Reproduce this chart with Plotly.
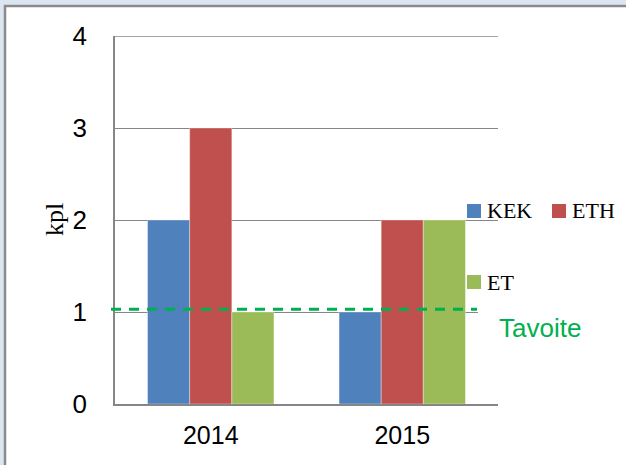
import plotly.graph_objects as go

categories = ["2014", "2015"]
kek = [2, 1]
eth = [3, 2]
et = [1, 2]
target = 1.03
series_names = ["KEK", "ETH", "ET"]
colors = ["#4f81bd", "#c0504d", "#9bbb59"]
y_ticks = [0, 1, 2, 3, 4]

W, H = 626, 465
L, R, T, B = 115, 128, 36, 61
pw, ph = W - L - R, H - T - B

def px(x):
    return (x - L) / pw

def py(y):
    return (H - B - y) / ph

fig = go.Figure()
for name, vals, c in zip(series_names, [kek, eth, et], colors):
    fig.add_trace(go.Bar(x=categories, y=vals, name=name,
                         marker=dict(color=c, line=dict(color="rgba(255,255,255,0.35)", width=1)),
                         showlegend=False))

grid = "#868686"
fig.update_layout(
    width=W, height=H,
    margin=dict(l=L, r=R, t=T, b=B),
    paper_bgcolor="#dce6f2",
    plot_bgcolor="rgba(0,0,0,0)",
    barmode="group", bargap=0.34, bargroupgap=0,
    showlegend=False,
    font=dict(family="Liberation Sans, Arial", color="black"),
    xaxis=dict(type="category", showgrid=False, showline=True, linecolor=grid, linewidth=1.5,
               ticks="", tickfont=dict(size=25, family="Liberation Sans, Arial"),
               ticklabelstandoff=8, fixedrange=True),
    yaxis=dict(range=[0, 4], tickvals=y_ticks, showgrid=True, gridcolor=grid, gridwidth=1.3,
               showline=True, linecolor=grid, linewidth=1.5, zeroline=False,
               ticks="", tickfont=dict(size=26, family="Liberation Sans, Arial"),
               ticklabelstandoff=21, fixedrange=True),
)

shapes = [
    # outer frame
    dict(type="rect", xref="paper", yref="paper", layer="below",
         x0=px(5), x1=px(660), y0=py(500), y1=py(6),
         line=dict(color="#8a8a8a", width=2.5), fillcolor="white"),
    # top gridline
    dict(type="line", xref="paper", yref="y", x0=0, x1=1, y0=y_ticks[-1], y1=y_ticks[-1],
         line=dict(color=grid, width=1.3), layer="below"),
    # target dashed line
    dict(type="line", xref="paper", yref="y", x0=px(111), x1=px(477), y0=target, y1=target,
         line=dict(color="#00b050", width=3, dash="10px,8px"), layer="above"),
    # legend background over gridline at 1
    dict(type="rect", xref="paper", yref="paper", x0=px(478), x1=px(500), y0=py(300), y1=py(320),
         line=dict(width=0), fillcolor="white", layer="above"),
]

# legend squares
leg = [("KEK", 467, 211, colors[0]), ("ETH", 552, 211, colors[1]), ("ET", 467, 282, colors[2])]
annotations = []
for name, x, y, c in leg:
    shapes.append(dict(type="rect", xref="paper", yref="paper",
                       x0=px(x), x1=px(x + 14), y0=py(y + 7), y1=py(y - 7),
                       line=dict(width=0), fillcolor=c, layer="above"))
    annotations.append(dict(xref="paper", yref="paper", x=px(x + 18), y=py(y), text=name,
                            showarrow=False, xanchor="left", yanchor="middle",
                            font=dict(family="Liberation Serif, Times New Roman", size=22, color="black")))
annotations.append(dict(xref="paper", yref="paper", x=px(497), y=py(328), text="Tavoite",
                        showarrow=False, xanchor="left", yanchor="middle",
                        font=dict(family="Liberation Sans, Arial", size=26, color="#00b050")))
annotations.append(dict(xref="paper", yref="paper", x=px(54), y=py(220), text="kpl",
                        showarrow=False, textangle=-90, xanchor="center", yanchor="middle",
                        font=dict(family="Liberation Serif, Times New Roman", size=26, color="black")))

fig.update_layout(shapes=shapes, annotations=annotations)
fig.write_html("out.html", config={"displayModeBar": False},
               post_script="document.body.style.margin='0';document.body.style.overflow='hidden';")
